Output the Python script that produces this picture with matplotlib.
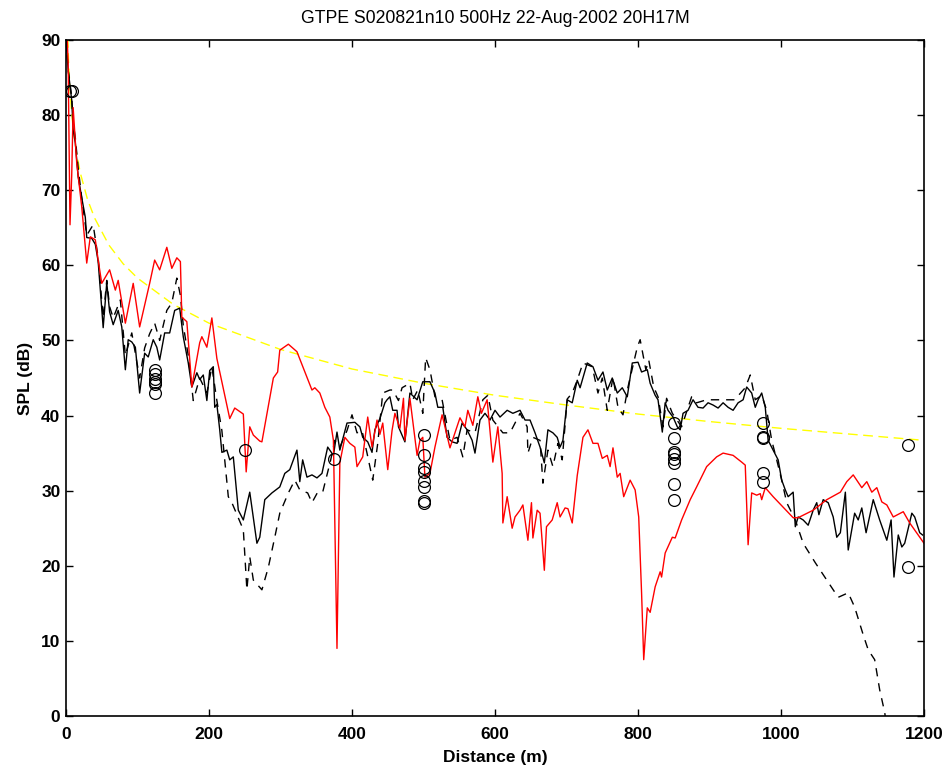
import matplotlib
matplotlib.use('Agg')
import matplotlib.pyplot as plt

TITLE = 'GTPE S020821n10 500Hz 22-Aug-2002 20H17M'

# red model curve
red_x = [1, 3, 5.6, 8, 10, 15, 22, 29, 34, 41, 45, 50, 61, 69, 73, 83, 94, 103, 117, 124,
         131, 141, 148, 155, 160, 162, 169, 176, 187, 190, 197, 204, 211, 229, 236, 248, 252, 257, 262, 271,
         274, 290, 296, 299, 311, 323, 337, 344, 348, 355, 362, 369, 374, 379, 383, 390, 397, 404, 407, 415,
         422, 428, 435, 439, 443, 450, 456, 460, 467, 472, 474, 481, 491, 495, 499, 502, 509, 516, 526, 537,
         551, 558, 562, 569, 576, 581, 589, 597, 604, 610, 611, 617, 624, 628, 635, 639, 646, 651, 653, 659,
         663, 669, 672, 680, 687, 691, 698, 702, 708, 715, 723, 730, 737, 744, 750, 757, 761, 765, 771, 775,
         780, 789, 796, 801, 805, 808, 813, 817, 824, 831, 833, 838, 848, 852, 861, 873, 882, 896, 910, 919,
         933, 945, 950, 954, 959, 966, 971, 973, 978, 989, 1003, 1017, 1024, 1045, 1064, 1083, 1092, 1101, 1113, 1120,
         1127, 1134, 1141, 1148, 1157, 1171, 1180, 1200]
red_y = [92, 87, 65.4, 72, 81, 73.6, 67.8, 60.3, 63.8, 63.4, 60.7, 57.6, 59.4, 56.7, 58, 52.3, 57.6, 51.8, 57.6, 60.7,
         59.4, 62.4, 59.6, 61, 60.5, 53.1, 52.5, 43.8, 49.7, 50.5, 49.1, 53, 47.6, 39.6, 41, 40.2, 32.5, 38.5, 37.4, 36.6,
         36.5, 45, 45.8, 48.7, 49.5, 48.5, 45.1, 43.4, 43.7, 43, 41.1, 39.8, 36.7, 9, 33.7, 37.1, 36.3, 35.8, 33.2, 34.5,
         39.8, 35.8, 39.4, 37.5, 39, 32.8, 38, 40.3, 38.3, 42.3, 36.7, 42.3, 34.7, 36.7, 37.1, 31.8, 32.3, 35.8, 40.1, 35.7,
         39.7, 38.5, 40.7, 38.7, 42.5, 40.3, 42.1, 33.8, 38.5, 32.3, 25.7, 29.2, 25, 26.5, 27.4, 28.1, 23.4, 28.4, 23.7, 27.4,
         27, 19.4, 25.2, 26.1, 28.4, 26.5, 27.7, 27.6, 25.7, 32, 37.1, 38.1, 36.3, 36.3, 34.3, 34.7, 33.2, 35.7, 31.8, 32.3,
         29.2, 31.4, 30.1, 26.5, 16.4, 7.5, 14.4, 13.8, 17.2, 19.2, 18.5, 21.7, 23.8, 23.7, 26.1, 28.8, 30.5, 33.2, 34.5, 35,
         34.7, 33.8, 33.4, 22.8, 29.7, 29.4, 29.6, 28.8, 30.4, 29.2, 27.8, 26.4, 26.4, 27.4, 28.8, 29.8, 31.2, 32.1, 30.4, 31.2,
         29.8, 30.4, 28.5, 28.1, 26.5, 27.2, 25.7, 23]

# black solid measured curve
blk_x = [0, 3, 8, 10, 13, 17, 22, 27, 29, 36, 41, 45, 52, 57, 61, 66, 73, 78, 83, 87,
         92, 97, 103, 110, 115, 122, 127, 131, 138, 145, 152, 159, 164, 171, 176, 183, 187, 192, 197, 201,
         206, 208, 211, 215, 218, 225, 229, 234, 241, 248, 257, 267, 271, 278, 288, 299, 306, 313, 323, 327,
         331, 337, 344, 351, 358, 366, 374, 379, 383, 393, 404, 411, 415, 422, 428, 432, 439, 446, 449, 453,
         457, 463, 465, 474, 481, 491, 499, 509, 516, 520, 527, 533, 540, 547, 554, 561, 568, 572, 579, 586,
         593, 600, 607, 617, 625, 635, 642, 649, 656, 663, 669, 674, 681, 687, 691, 695, 701, 708, 715, 719,
         729, 737, 744, 751, 757, 764, 771, 778, 785, 792, 800, 805, 813, 817, 824, 828, 834, 838, 842, 849,
         855, 859, 863, 870, 877, 884, 891, 898, 905, 912, 919, 926, 933, 940, 947, 952, 959, 964, 968, 973,
         978, 982, 989, 996, 1001, 1006, 1010, 1017, 1020, 1024, 1031, 1038, 1045, 1050, 1053, 1059, 1066, 1073, 1078, 1083,
         1090, 1094, 1103, 1108, 1113, 1119, 1129, 1138, 1148, 1154, 1158, 1164, 1169, 1173, 1183, 1187, 1194, 1198]
blk_y = [90, 86, 82, 78, 76.3, 71.8, 69, 66.4, 63.7, 63.6, 62.8, 60.5, 51.7, 57.7, 53.8, 52.1, 54, 51.8, 46.1, 50.1,
         49.8, 49.1, 43, 48.3, 47.8, 50.1, 49.1, 47.4, 51, 51, 54, 54.3, 50.5, 47, 43.8, 45.7, 44.8, 45.4, 42, 46,
         46.5, 41.1, 41.5, 38.1, 35.1, 35.4, 34.1, 34.5, 27.4, 26.1, 29.8, 23, 23.8, 28.8, 29.7, 30.5, 32.3, 32.8, 35.4, 31.2,
         34.1, 31.8, 32.1, 31.7, 32.3, 35.8, 34.7, 37.8, 35.4, 39, 39.1, 38.5, 37.1, 36.5, 35.1, 38.1, 39.6, 41.7, 42.1, 42.5,
         40.7, 40.7, 38.5, 36.5, 43, 42.1, 44.5, 44.5, 43, 41.1, 41.1, 37.1, 36.5, 36.3, 39, 38.1, 36.7, 35, 39.4, 40.3,
         39.4, 40.7, 39.8, 40.7, 40.3, 40.7, 39.4, 39.4, 37.7, 35.8, 33.7, 38.1, 37.7, 37.1, 35.8, 36.7, 42.1, 41.7, 44.7, 43.7,
         47, 46.5, 44.7, 45.8, 43.4, 45, 43, 43.7, 42.5, 47, 47.1, 45.8, 46.1, 44.3, 42.7, 42.1, 37.8, 41.7, 40.7, 39.8,
         38.5, 38.1, 40.3, 40.7, 42.1, 41.1, 41, 41.7, 41.4, 41, 41.7, 41.1, 40.7, 41.7, 42.1, 43.8, 43, 41.1, 42.1, 43,
         41.1, 36.7, 35.4, 34.1, 31.4, 30.1, 29.2, 29.8, 25.2, 26.5, 26.1, 25.4, 27.4, 28.4, 26.8, 28.8, 28.4, 26.5, 23.8, 24.4,
         29.8, 22.1, 27, 26.1, 27.7, 24.4, 28.8, 26.1, 23.4, 26.1, 18.5, 24.1, 22.5, 23, 27, 26.5, 24.4, 24.1]

# black dashed curve
dsh_x = [0, 3, 8, 10, 13, 17, 22, 29, 38, 45, 52, 57, 61, 66, 76, 83, 92, 103, 110, 117,
         124, 131, 141, 148, 155, 160, 164, 171, 178, 187, 197, 204, 211, 218, 227, 232, 248, 253, 257, 262,
         274, 283, 292, 299, 311, 320, 327, 338, 344, 352, 359, 370, 376, 383, 393, 400, 407, 414, 421, 429,
         436, 443, 453, 457, 465, 470, 481, 485, 492, 499, 503, 509, 516, 526, 537, 547, 555, 561, 572, 583,
         590, 597, 611, 621, 635, 645, 646, 653, 663, 667, 674, 681, 688, 694, 701, 708, 715, 723, 736, 744,
         750, 757, 765, 772, 779, 786, 799, 803, 811, 815, 822, 828, 835, 840, 848, 861, 875, 882, 896, 910,
         924, 935, 950, 957, 964, 973, 980, 987, 994, 1001, 1008, 1020, 1031, 1048, 1064, 1080, 1094, 1103, 1115, 1122,
         1131, 1138, 1145, 1150]
dsh_y = [90, 86, 82.5, 79, 77, 73, 69, 64, 65.4, 61, 53, 58, 54.5, 53, 55.4, 48, 51, 45, 49, 50.9,
         52.3, 50, 54, 55, 58.3, 56, 52, 48, 42, 45, 43, 46.5, 42, 38, 29.2, 28.4, 24.8, 16.8, 21.2, 18.1,
         16.8, 19.8, 23.8, 27, 29.7, 31.4, 30.1, 29.7, 28.4, 29.8, 29.8, 34, 36.7, 35.8, 38, 40.1, 37.7, 38, 35, 31.4,
         36.3, 43, 43.4, 43.4, 42, 43.7, 44.3, 42.1, 43.4, 40.3, 47.7, 46.1, 42.5, 42.1, 36.7, 37.1, 34.5, 38.1, 37.7, 42.1,
         42.7, 39.4, 37.7, 37.7, 40.3, 38.5, 35, 37.1, 36.7, 31, 35.4, 33.2, 36.3, 34.1, 42.2, 43, 44.7, 47, 46.5, 43,
         45, 40.7, 45.1, 41.1, 40.1, 43.8, 49.1, 50.1, 46.1, 47.4, 43.8, 42.5, 38.5, 42.3, 40.3, 38.5, 42.5, 41.7, 42.1, 42.1,
         42.1, 42.1, 43.7, 45.4, 42.1, 42.7, 40.7, 36.7, 34.1, 31.4, 28.4, 26.1, 23, 20.4, 18.1, 15.8, 16.4, 14.5, 10.8, 8.8,
         7.5, 3.5, 0.5, -3]

# yellow reference curve
yel_x = [2, 3, 4, 6, 8, 10, 15, 20, 30, 40, 60, 80, 100, 150, 200, 300, 400, 500, 600, 700,
         800, 900, 1000, 1100, 1200]
yel_y = [92.3, 88.8, 86.3, 82.7, 80.2, 78.3, 74.8, 72.3, 68.8, 66.3, 62.7, 60.2, 58.3, 54.8, 52.3, 48.8, 46.2, 44.3, 42.7, 41.4,
         40.2, 39.2, 38.3, 37.5, 36.7]

# measured points (circles)
pt_x = [6, 9, 125, 125, 125, 125, 125, 125, 250, 375,
        500, 500, 500, 500, 500, 500, 500, 500,
        850, 850, 850, 850, 850, 850, 850, 850,
        975, 975, 975, 975, 975, 1178, 1178]
pt_y = [83.2, 83.2, 46.0, 45.5, 44.9, 44.5, 44.2, 43.0, 35.4, 34.2,
        37.4, 34.8, 33.0, 32.5, 31.3, 30.5, 28.6, 28.3,
        39.0, 37.0, 35.1, 34.9, 34.2, 33.7, 30.9, 28.8,
        39.0, 37.1, 37.0, 32.3, 31.2, 36.1, 19.8]

plt.rcParams['font.family'] = ['Liberation Sans', 'DejaVu Sans']

fig = plt.figure(figsize=(9.52, 7.71), dpi=100)
ax = fig.add_axes([66 / 952, 55 / 771, 858 / 952, 676 / 771])

ax.plot(yel_x, yel_y, color='#ffff00', lw=1.0, dashes=(7, 4))
ax.plot(dsh_x, dsh_y, color='black', lw=1.0, dashes=(6, 5))
ax.plot(blk_x, blk_y, color='black', lw=1.0)
ax.plot(red_x, red_y, color='#ff0000', lw=1.0)
ax.plot(pt_x, pt_y, 'o', mfc='none', mec='black', ms=8.5, mew=0.9)

ax.set_xlim(0, 1200)
ax.set_ylim(0, 90)
ax.set_xticks(range(0, 1201, 200))
ax.set_yticks(range(0, 91, 10))
ax.tick_params(direction='in', top=True, right=True, length=5, width=1,
               labelsize=12.5, pad=4)
ax.tick_params(axis='x', pad=8)
for lab in ax.get_xticklabels() + ax.get_yticklabels():
    lab.set_fontweight('bold')
for s in ax.spines.values():
    s.set_linewidth(1.2)

ax.set_xlabel('Distance (m)', fontsize=12.5, fontweight='bold', labelpad=6)
ax.set_ylabel('SPL (dB)', fontsize=12.5, fontweight='bold', labelpad=6)
ax.set_title(TITLE, fontsize=12.7, pad=12)

fig.savefig('out.png', dpi=100)
